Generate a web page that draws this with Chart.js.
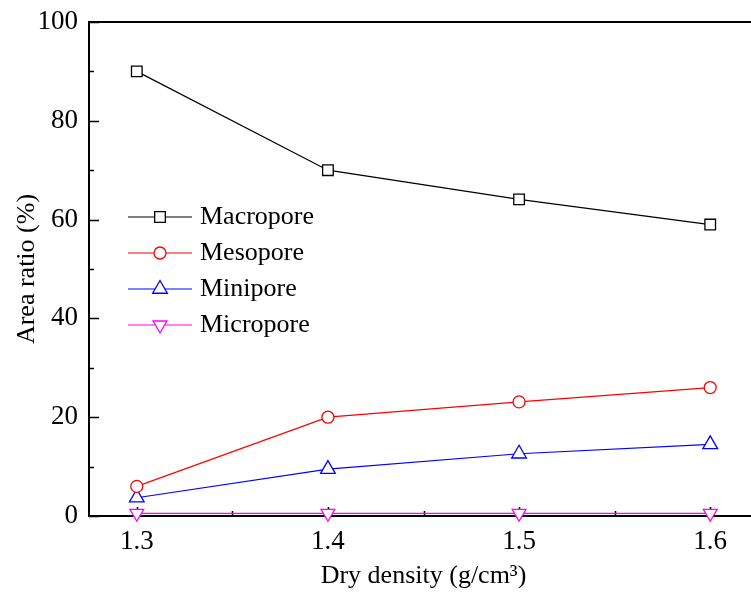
<!DOCTYPE html>
<html>
<head>
<meta charset="utf-8">
<script src="https://cdn.jsdelivr.net/npm/chart.js@4/dist/chart.umd.min.js"></script>
<style>
    html, body { margin: 0; padding: 0; background: #fff; overflow: hidden; }
    #wrap { width: 758px; height: 592px; }
</style>
</head>
<body>
<div id="wrap"><canvas id="poreChart" width="758" height="592"></canvas></div>
<script>
// Pore area ratio vs dry density
const densities = [1.3, 1.4, 1.5, 1.6];
const macropore = [90, 70, 64.1, 59];
const mesopore = [6, 20, 23.1, 26];
const minipore = [3.7, 9.5, 12.6, 14.5];
const micropore = [0.55, 0.55, 0.55, 0.55];

const xTicks = [1.3, 1.4, 1.5, 1.6];
const xMinorTicks = [1.35, 1.45, 1.55];
const yTicks = [0, 20, 40, 60, 80, 100];
const yMinorTicks = [10, 30, 50, 70, 90];

const seriesNames = ['Macropore', 'Mesopore', 'Minipore', 'Micropore'];
const seriesColors = ['#000000', '#ff0000', '#0000ff', '#ff00ff'];

const serif = 'Liberation Serif, Times New Roman, serif';

function points(values) {
    return densities.map((d, i) => ({ x: d, y: values[i] }));
}

function makeDataset(label, values, color, style, radius, rotation) {
    return {
        label: label,
        data: points(values),
        borderColor: color,
        borderWidth: 1.2,
        pointStyle: style,
        pointRadius: radius,
        pointHoverRadius: radius,
        pointRotation: rotation || 0,
        pointBorderColor: color,
        pointBackgroundColor: '#ffffff',
        pointBorderWidth: 1.3,
        tension: 0,
        clip: false
    };
}

// Inward ticks and the top frame line
const frameTicks = {
    id: 'frameTicks',
    beforeDatasetsDraw(chart) {
        const ctx = chart.ctx;
        const area = chart.chartArea;
        const xs = chart.scales.x;
        const ys = chart.scales.y;
        ctx.save();
        ctx.strokeStyle = '#000';
        ctx.lineWidth = 1.6;
        ctx.beginPath();
        yTicks.forEach(v => {
            const py = Math.round(ys.getPixelForValue(v)) + 0.5;
            ctx.moveTo(area.left, py);
            ctx.lineTo(area.left + 10, py);
        });
        yMinorTicks.forEach(v => {
            const py = Math.round(ys.getPixelForValue(v)) + 0.5;
            ctx.moveTo(area.left, py);
            ctx.lineTo(area.left + 5, py);
        });
        xTicks.forEach(v => {
            const px = Math.round(xs.getPixelForValue(v)) + 0.5;
            ctx.moveTo(px, area.bottom);
            ctx.lineTo(px, area.bottom - 9);
        });
        xMinorTicks.forEach(v => {
            const px = Math.round(xs.getPixelForValue(v)) + 0.5;
            ctx.moveTo(px, area.bottom);
            ctx.lineTo(px, area.bottom - 5);
        });
        ctx.stroke();

        // top frame
        ctx.lineWidth = 2;
        ctx.beginPath();
        ctx.moveTo(area.left - 1, area.top);
        ctx.lineTo(area.right, area.top);
        ctx.stroke();
        ctx.restore();
    }
};

// Legend with line + marker samples inside the plot
const lineLegend = {
    id: 'lineLegend',
    afterDraw(chart) {
        const ctx = chart.ctx;
        const x0 = 128, x1 = 192, xm = 160, xt = 200;
        const y0 = 217, step = 36;
        ctx.save();
        chart.data.datasets.forEach((ds, i) => {
            const y = y0 + i * step;
            ctx.strokeStyle = ds.borderColor;
            ctx.lineWidth = 1.2;
            ctx.beginPath();
            ctx.moveTo(x0, y);
            ctx.lineTo(x1, y);
            ctx.stroke();
            ctx.fillStyle = '#ffffff';
            ctx.strokeStyle = ds.pointBorderColor;
            ctx.lineWidth = ds.pointBorderWidth;
            Chart.helpers.drawPoint(ctx, {
                pointStyle: ds.pointStyle,
                rotation: ds.pointRotation,
                radius: ds.pointRadius,
                borderWidth: ds.pointBorderWidth
            }, xm, y);
            ctx.fillStyle = '#000';
            ctx.font = '26px ' + serif;
            ctx.textAlign = 'left';
            ctx.textBaseline = 'middle';
            ctx.fillText(ds.label, xt, y);
        });
        ctx.restore();
    }
};

const ctx = document.getElementById('poreChart').getContext('2d');
new Chart(ctx, {
    type: 'line',
    data: {
        datasets: [
            makeDataset(seriesNames[0], macropore, seriesColors[0], 'rect', 7.5),
            makeDataset(seriesNames[1], mesopore, seriesColors[1], 'circle', 6),
            makeDataset(seriesNames[2], minipore, seriesColors[2], 'triangle', 8.5),
            makeDataset(seriesNames[3], micropore, seriesColors[3], 'triangle', 8, 180)
        ]
    },
    options: {
        responsive: false,
        animation: false,
        events: [],
        layout: { autoPadding: false, padding: { top: 22, left: 0, right: 0, bottom: 0 } },
        plugins: {
            legend: { display: false },
            tooltip: { enabled: false }
        },
        scales: {
            x: {
                type: 'linear',
                min: 1.275,
                max: 1.625,
                afterBuildTicks: (scale) => {
                    scale.ticks = xTicks.map(v => ({ value: v }));
                },
                afterFit: (scale) => {
                    scale.height = 76;
                    scale.paddingLeft = 0;
                    scale.paddingRight = 0;
                },
                grid: { display: false, drawTicks: false },
                border: { display: true, color: '#000', width: 2 },
                ticks: {
                    color: '#000',
                    font: { family: serif, size: 27 },
                    padding: 10,
                    maxRotation: 0,
                    callback: (v) => Number(v).toFixed(1)
                },
                title: {
                    display: true,
                    text: 'Dry density (g/cm³)',
                    color: '#000',
                    font: { family: serif, size: 26 },
                    padding: { top: 0, bottom: 0 }
                }
            },
            y: {
                min: 0,
                max: 100,
                afterBuildTicks: (scale) => {
                    scale.ticks = yTicks.map(v => ({ value: v }));
                },
                afterFit: (scale) => {
                    scale.width = 89;
                    scale.paddingTop = 0;
                    scale.paddingBottom = 0;
                },
                grid: { display: false, drawTicks: false },
                border: { display: true, color: '#000', width: 2 },
                ticks: {
                    color: '#000',
                    font: { family: serif, size: 27 },
                    padding: 11
                },
                title: {
                    display: true,
                    text: 'Area ratio (%)',
                    color: '#000',
                    font: { family: serif, size: 26 },
                    padding: { top: 12, bottom: 0 }
                }
            }
        }
    },
    plugins: [frameTicks, lineLegend]
});
</script>
</body>
</html>
